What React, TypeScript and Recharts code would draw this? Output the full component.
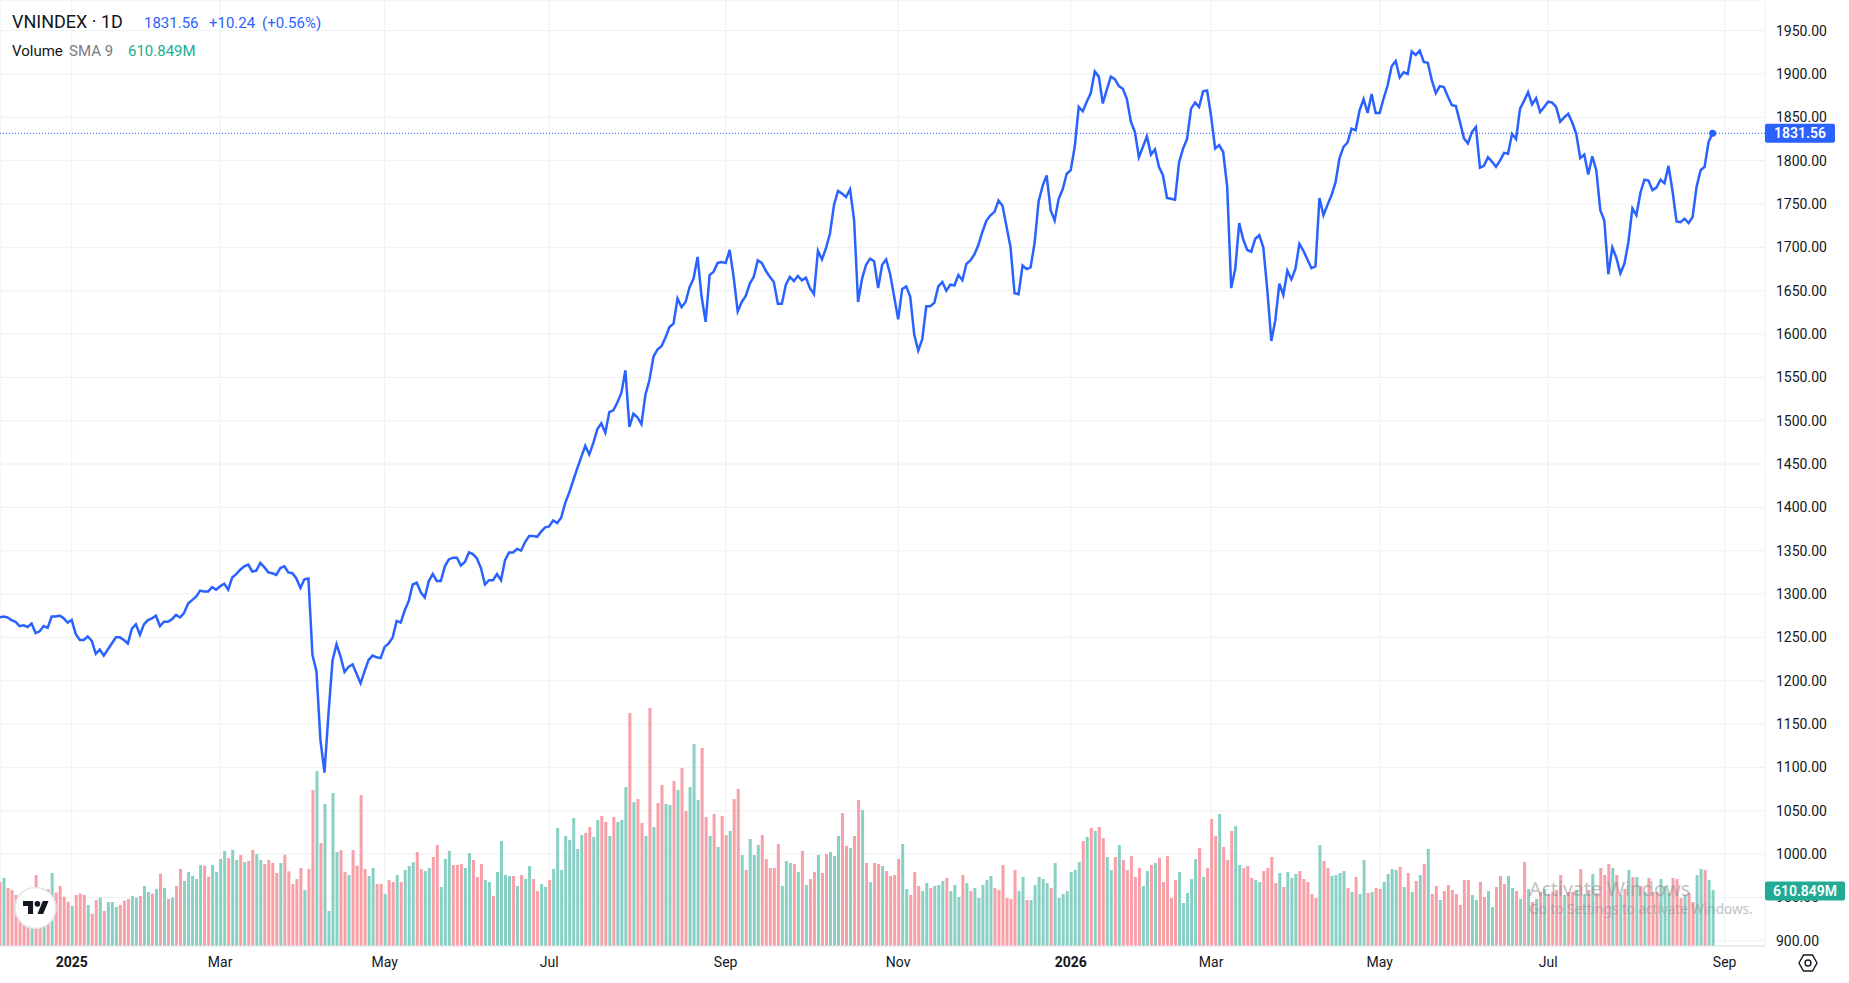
import React from "react";
import {
  ComposedChart,
  Line,
  Bar,
  Cell,
  XAxis,
  YAxis,
  CartesianGrid,
  ReferenceLine,
  ReferenceDot,
} from "recharts";

// ---------------- DATA ----------------
const symbol = "VNINDEX";
const interval = "1D";
const lastChange = 10.24;
const lastChangePct = 0.56;
const volumeSma9Last = 610.849; // millions

// daily closes, trading-day index 0..427
const closes: number[] = [
  1273, 1274, 1273, 1270, 1268, 1263, 1264, 1262, 1266, 1255,
  1257, 1263, 1261, 1274, 1274, 1275, 1272, 1267, 1270, 1254,
  1247, 1247, 1251, 1246, 1231, 1236, 1229, 1236, 1243, 1250,
  1250, 1247, 1243, 1260, 1265, 1253, 1265, 1270, 1272, 1275,
  1263, 1268, 1268, 1271, 1276, 1273, 1278, 1289, 1293, 1297,
  1304, 1303, 1303, 1308, 1305, 1309, 1312, 1305, 1319, 1323,
  1328, 1332, 1334, 1326, 1327, 1336, 1331, 1325, 1324, 1322,
  1330, 1332, 1325, 1324, 1318, 1307, 1317, 1318, 1230, 1211,
  1131, 1094, 1162, 1223, 1242, 1228, 1210, 1216, 1219, 1208,
  1197, 1211, 1224, 1229, 1227, 1226, 1239, 1243, 1250, 1269,
  1267, 1281, 1292, 1311, 1313, 1302, 1296, 1315, 1323, 1315,
  1315, 1332, 1340, 1342, 1342, 1333, 1337, 1348, 1346, 1341,
  1330, 1311, 1316, 1316, 1323, 1316, 1339, 1348, 1348, 1352,
  1350, 1360, 1367, 1367, 1366, 1372, 1377, 1378, 1385, 1382,
  1388, 1405, 1417, 1431, 1445, 1458, 1471, 1461, 1474, 1490,
  1497, 1486, 1510, 1512, 1521, 1532, 1558, 1493, 1508, 1504,
  1496, 1530, 1547, 1574, 1582, 1586, 1596, 1608, 1612, 1641,
  1631, 1637, 1654, 1664, 1689, 1643, 1614, 1668, 1672, 1682,
  1683, 1682, 1697, 1665, 1626, 1637, 1644, 1658, 1666, 1685,
  1682, 1673, 1666, 1660, 1635, 1635, 1657, 1666, 1661, 1667,
  1662, 1665, 1653, 1646, 1696, 1686, 1699, 1716, 1749, 1765,
  1762, 1758, 1767, 1732, 1637, 1664, 1680, 1687, 1684, 1653,
  1680, 1686, 1669, 1643, 1617, 1652, 1655, 1643, 1599, 1581,
  1594, 1632, 1632, 1636, 1655, 1660, 1650, 1657, 1656, 1668,
  1662, 1681, 1685, 1692, 1703, 1718, 1731, 1737, 1741, 1754,
  1748, 1724, 1700, 1647, 1646, 1679, 1675, 1677, 1705, 1753,
  1771, 1783, 1743, 1731, 1756, 1767, 1785, 1789, 1816, 1862,
  1857, 1868, 1878, 1903, 1897, 1866, 1882, 1897, 1894, 1886,
  1883, 1871, 1845, 1833, 1804, 1816, 1828, 1807, 1813, 1793,
  1783, 1757, 1756, 1755, 1798, 1814, 1825, 1860, 1867, 1862,
  1880, 1881, 1851, 1814, 1818, 1810, 1770, 1653, 1675, 1728,
  1709, 1697, 1695, 1710, 1714, 1700, 1651, 1592, 1616, 1658,
  1645, 1673, 1663, 1675, 1704, 1696, 1686, 1676, 1678, 1757,
  1737, 1749, 1760, 1775, 1803, 1816, 1821, 1837, 1835, 1858,
  1871, 1855, 1877, 1855, 1855, 1872, 1887, 1909, 1915, 1896,
  1902, 1900, 1926, 1922, 1927, 1914, 1913, 1893, 1878, 1886,
  1885, 1874, 1864, 1863, 1845, 1826, 1820, 1833, 1839, 1792,
  1794, 1804, 1799, 1793, 1800, 1809, 1808, 1831, 1825, 1860,
  1869, 1879, 1865, 1872, 1856, 1862, 1868, 1867, 1862, 1845,
  1850, 1854, 1844, 1831, 1803, 1807, 1784, 1805, 1789, 1743,
  1731, 1669, 1700, 1688, 1670, 1681, 1706, 1745, 1737, 1763,
  1778, 1777, 1766, 1769, 1778, 1774, 1794, 1765, 1730, 1729,
  1733, 1728, 1735, 1770, 1789, 1793, 1822, 1831.56,
];

// daily volume, millions of shares
const volumes: number[] = [
  715, 756, 644, 622, 567, 548, 511, 530, 511, 789,
  604, 585, 633, 811, 593, 667, 548, 493, 444, 567,
  582, 567, 456, 359, 511, 537, 389, 489, 489, 433,
  456, 504, 522, 556, 537, 556, 667, 600, 582, 633,
  804, 644, 522, 537, 667, 856, 722, 822, 778, 744,
  900, 893, 770, 900, 822, 967, 1056, 978, 1067, 956,
  1011, 933, 944, 1067, 1022, 956, 911, 956, 922, 811,
  922, 1011, 830, 689, 744, 867, 622, 856, 1733, 1944,
  1144, 1578, 389, 1700, 1044, 1067, 822, 789, 1067, 893,
  1678, 856, 778, 867, 689, 689, 578, 733, 711, 789,
  711, 844, 889, 930, 1044, 856, 833, 867, 989, 1122,
  656, 967, 1056, 900, 900, 911, 867, 1033, 956, 767,
  911, 733, 711, 556, 822, 1167, 789, 778, 778, 667,
  789, 744, 889, 744, 611, 689, 656, 733, 856, 1311,
  844, 1222, 1178, 1422, 1078, 1233, 1256, 1322, 1211, 1400,
  1444, 1378, 1222, 1433, 1378, 1400, 1767, 2589, 1600, 1633,
  1367, 1222, 2645, 1322, 1589, 1789, 1578, 1567, 1833, 1733,
  1978, 1500, 1767, 2245, 1622, 2200, 1433, 1222, 1467, 1100,
  1444, 1233, 1278, 1633, 1745, 1011, 844, 1189, 1011, 1122,
  1233, 967, 867, 867, 1133, 667, 944, 922, 911, 822,
  1056, 678, 744, 822, 1011, 811, 1022, 1044, 1000, 1222,
  1478, 1111, 1089, 1222, 1622, 1511, 922, 711, 922, 911,
  889, 833, 778, 789, 967, 1133, 633, 567, 822, 667,
  611, 700, 644, 667, 678, 722, 756, 611, 678, 544,
  789, 700, 611, 644, 533, 678, 733, 778, 644, 622,
  900, 533, 522, 844, 611, 767, 511, 511, 678, 767,
  744, 700, 644, 922, 533, 578, 611, 822, 844, 933,
  1167, 1211, 1311, 1278, 1322, 1200, 989, 844, 989, 1122,
  956, 844, 1000, 767, 867, 667, 833, 900, 922, 978,
  711, 1000, 533, 733, 822, 478, 589, 744, 967, 1089,
  767, 867, 1411, 1222, 1467, 1100, 956, 1278, 1333, 900,
  867, 889, 756, 733, 711, 833, 867, 989, 700, 811,
  656, 822, 756, 800, 833, 744, 711, 578, 533, 1122,
  944, 867, 778, 789, 811, 833, 644, 600, 767, 578,
  956, 589, 600, 644, 633, 711, 800, 856, 844, 878,
  656, 811, 600, 722, 789, 911, 1078, 578, 667, 511,
  611, 678, 622, 578, 456, 733, 733, 567, 511, 711,
  544, 611, 433, 656, 778, 689, 778, 644, 611, 522,
  933, 633, 489, 522, 600, 633, 578, 600, 622, 789,
  567, 600, 600, 622, 856, 578, 622, 800, 589, 867,
  789, 911, 867, 789, 567, 633, 844, 767, 767, 667,
  600, 756, 600, 600, 744, 667, 589, 756, 744, 533,
  567, 589, 489, 789, 856, 844, 733, 622,
];

// candle direction of each day (u = up candle, d = down candle)
const candleDir: string[] = [
  "duddddddud", "dududdddud", "ddudduduuu", "ddduuduudu", "dududduuuu",
  "udduuuuduu", "dudduudddd", "uddddduddu", "duuuuddudd", "dduudduddu",
  "duuudduudd", "uuuddduudd", "duuduuuudu", "duudduuduu", "uuuuuudduu",
  "dduduuudud", "dududduudu", "dduuuddudu", "ddudduduuu", "ddddduuudu",
  "duddudduuu", "dduddududd", "udddduuddd", "uuduuuduuu", "duduuuuudd",
  "dddduuduuu", "uuduuuuuuu", "dududduudu", "ddddduudud", "dddduuuuud",
  "uddduddduu", "ddduuddddu", "duuudddddu", "dduuuududu", "ududduuuud",
  "ududududdu", "ddddddduud", "duuddduudu", "dudududddd", "uddudududd",
  "ddudududud", "uddduuuddd", "udduuduu",
];

// time-axis ticks (trading-day index of the first session of each month)
const monthTickIndex: number[] = [18, 55, 96, 137, 181, 224, 267, 302, 344, 386, 430];
const monthTickLabel: string[] = ["2025", "Mar", "May", "Jul", "Sep", "Nov", "2026", "Mar", "May", "Jul", "Sep"];

const priceTicks: number[] = [
  900, 950, 1000, 1050, 1100, 1150, 1200, 1250, 1300, 1350, 1400,
  1450, 1500, 1550, 1600, 1650, 1700, 1750, 1800, 1850, 1900, 1950,
];

// ---------------- STYLE ----------------
const W = 1849;
const H = 983;
const PRICE_AXIS_W = 84;
const FONT = "Roboto, 'Noto Sans', sans-serif";
const TEXT = "#131722";
const LINE = "#2962ff";
const UP = "#89d0c4";
const DOWN = "#f7a0a7";
const GRID = "#eef0f3";
const SMA_COLOR = "#22ab94";

const dirs = candleDir.join("");
const data = closes.map((p, i) => ({
  i,
  p,
  v: volumes[i],
  up: dirs[i] !== "d",
}));
const lastIndex = data.length - 1;
const lastClose = closes[lastIndex];
const PRICE_DOMAIN: [number, number] = [893.9, 1985.4];

const TimeTick = (props: any) => {
  const { x, y, payload } = props;
  const k = monthTickIndex.indexOf(payload.value);
  const label = k >= 0 ? monthTickLabel[k] : "";
  const isYear = /^\d{4}$/.test(label);
  return (
    <text
      x={x}
      y={y + 16}
      textAnchor="middle"
      dominantBaseline="central"
      fontSize={14}
      fontWeight={isYear ? 700 : 400}
      fill={TEXT}
      fontFamily={FONT}
    >
      {label}
    </text>
  );
};

const PriceTick = (props: any) => {
  const { x, y, payload } = props;
  return (
    <text
      x={x + 11}
      y={y}
      textAnchor="start"
      dominantBaseline="central"
      fontSize={14}
      fill={TEXT}
      fontFamily={FONT}
    >
      {Number(payload.value).toFixed(2)}
    </text>
  );
};

const BadgeShape = ({ x, y, w, text, color }: any) => (
  <g>
    <rect x={x} y={y - 9.5} width={w} height={19} rx={2} fill={color} />
    <text
      x={x + w / 2}
      y={y}
      textAnchor="middle"
      dominantBaseline="central"
      fontSize={14}
      fontWeight={600}
      fill="#ffffff"
      fontFamily={FONT}
    >
      {text}
    </text>
  </g>
);

// Badges are drawn as the single tick of a 1px-wide helper axis, so the
// library's own scale places them, and they paint over the price labels.
const VolumeBadgeTick = (props: any) => {
  const { y } = props;
  return (
    <BadgeShape
      x={W - PRICE_AXIS_W}
      y={y}
      w={80}
      text={`${volumeSma9Last.toFixed(3)}M`}
      color={SMA_COLOR}
    />
  );
};

const PriceBadgeTick = (props: any) => {
  const { y } = props;
  return <BadgeShape x={W - PRICE_AXIS_W} y={y} w={70} text={lastClose.toFixed(2)} color={LINE} />;
};

export default function App() {
  const sign = lastChange >= 0 ? "+" : "";
  return (
    <div style={{ position: "relative", width: W, height: H, background: "#fff" }}>
      <style>{`body{margin:0;background:#fff}`}</style>
      <ComposedChart
        width={W}
        height={H}
        data={data}
        margin={{ top: 0, right: 0, bottom: 0, left: -2 }}
      >
        <CartesianGrid yAxisId="p" stroke={GRID} />
        <XAxis
          dataKey="i"
          type="number"
          domain={[0.125, 440.05]}
          allowDataOverflow
          ticks={monthTickIndex}
          interval={0}
          tick={<TimeTick />}
          tickLine={false}
          tickSize={0}
          tickMargin={0}
          axisLine={{ stroke: "#e0e3eb" }}
          height={37}
        />
        <YAxis
          yAxisId="p"
          orientation="right"
          width={PRICE_AXIS_W}
          domain={PRICE_DOMAIN}
          allowDataOverflow
          ticks={priceTicks}
          interval={0}
          tick={<PriceTick />}
          tickLine={false}
          tickSize={0}
          tickMargin={0}
          axisLine={false}
        />
        <YAxis
          yAxisId="v"
          orientation="left"
          width={1}
          domain={[0, 10511]}
          allowDataOverflow
          ticks={[volumeSma9Last]}
          interval={0}
          tick={<VolumeBadgeTick />}
          tickLine={false}
          axisLine={false}
        />
        <YAxis
          yAxisId="pb"
          orientation="left"
          width={1}
          domain={PRICE_DOMAIN}
          allowDataOverflow
          ticks={[lastClose]}
          interval={0}
          tick={<PriceBadgeTick />}
          tickLine={false}
          axisLine={false}
        />
        <Bar yAxisId="v" dataKey="v" barSize={3} isAnimationActive={false}>
          {data.map((d) => (
            <Cell key={d.i} fill={d.up ? UP : DOWN} />
          ))}
        </Bar>
        <ReferenceLine
          yAxisId="p"
          y={lastClose}
          stroke={LINE}
          strokeWidth={1}
          strokeDasharray="1 2"
        />
        <Line
          yAxisId="p"
          dataKey="p"
          type="linear"
          stroke={LINE}
          strokeWidth={2.5}
          dot={false}
          activeDot={false}
          isAnimationActive={false}
        />
        <ReferenceDot
          yAxisId="p"
          x={lastIndex}
          y={lastClose}
          r={3.5}
          fill={LINE}
          stroke="none"
        />
      </ComposedChart>

      <svg
        width={W}
        height={H}
        style={{ position: "absolute", left: 0, top: 0, pointerEvents: "none" }}
      >
        {/* legend */}
        <text x={12} y={28} fontSize={18} fill={TEXT} fontFamily={FONT}>
          {`${symbol} · ${interval}`}
        </text>
        <text y={28} fontSize={15} fill={LINE} fontFamily={FONT}>
          <tspan x={144}>{lastClose.toFixed(2)}</tspan>
          <tspan x={209}>{`${sign}${lastChange.toFixed(2)}`}</tspan>
          <tspan x={262}>{`(${sign}${lastChangePct.toFixed(2)}%)`}</tspan>
        </text>
        <text y={56} fontSize={15} fontFamily={FONT}>
          <tspan x={12} fill={TEXT}>Volume</tspan>
          <tspan x={69} fill="#787b86">SMA 9</tspan>
          <tspan x={128} fill={SMA_COLOR}>{`${volumeSma9Last.toFixed(3)}M`}</tspan>
        </text>

        {/* TradingView logo */}
        <circle cx={35.5} cy={908} r={20.5} fill="#ffffff" stroke="#e0e3eb" strokeWidth={1.5} />
        <g transform="translate(23 898.1) scale(0.72)" fill={TEXT}>
          <path d="M14 22H7V11H0V4h14v18zM28 22h-8l7.5-18h8L28 22z" />
          <circle cx={20} cy={8} r={4} />
        </g>

        {/* settings icon */}
        <polygon
          points="1799,963 1803.5,955 1812.5,955 1817,963 1812.5,971 1803.5,971"
          fill="none"
          stroke={TEXT}
          strokeWidth={1.4}
        />
        <circle cx={1808} cy={963} r={3} fill="none" stroke={TEXT} strokeWidth={1.4} />

        {/* OS watermark */}
        <text x={1529} y={896} fontSize={19.5} fill="#8f8f8f" opacity={0.55} fontFamily="'Noto Sans', sans-serif">
          Activate Windows
        </text>
        <text x={1529} y={914} fontSize={13.5} fill="#8f8f8f" opacity={0.55} fontFamily="'Noto Sans', sans-serif">
          Go to Settings to activate Windows.
        </text>
      </svg>
    </div>
  );
}
